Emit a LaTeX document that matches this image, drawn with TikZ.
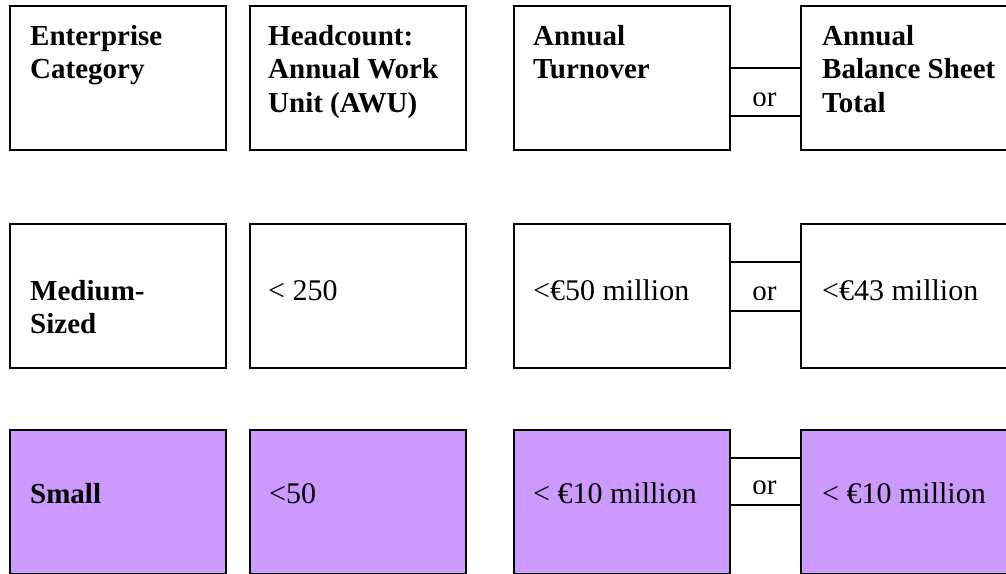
\documentclass[tikz,border=0pt]{standalone}
\usepackage{fontspec}
\setmainfont{Liberation Serif}
\usetikzlibrary{calc}
\definecolor{smallfill}{HTML}{CC99FF}
\newcommand{\cellstack}[1]{\vtop{\baselineskip=33.5pt\halign{##\hfil\cr#1\crcr}}}

\begin{document}
\begin{tikzpicture}[
    x=1pt, y=-1pt,
    cell/.style={draw, line width=1.8pt, minimum width=216pt, minimum height=144pt, inner sep=0pt, anchor=north west},
    smallcell/.style={cell, fill=smallfill},
    head/.style={font=\fontsize{29}{33.5}\selectfont\bfseries, anchor=base west, inner sep=0pt},
    val/.style={font=\fontsize{30}{34}\selectfont, anchor=base west, inner sep=0pt},
    ortext/.style={font=\fontsize{29}{34}\selectfont, anchor=base, inner sep=0pt},
    orline/.style={line width=1.5pt},
]
    \useasboundingbox (0,0) rectangle (1006,573);
    \fill[white] (0,0) rectangle (1006,573);
    \clip (0,0) rectangle (1006,573);

    % --- Header row ---
    \node[cell] (b11) at (9,5) {};
    \node[cell] (b12) at (249,5) {};
    \node[cell] (b13) at (513,5) {};
    \node[cell] (b14) at (800,5) {};
    \draw[orline] ($(b13.north east)+(0,63)$) -- ($(b14.north west)+(0,63)$);
    \draw[orline] ($(b13.north east)+(0,111)$) -- ($(b14.north west)+(0,111)$);
    \node[head] (t11) at (30,45) {\cellstack{Enterprise\cr Category}};
    \node[head] (t12) at (268,45) {\cellstack{Headcount:\cr Annual Work\cr Unit (AWU)}};
    \node[head] (t13) at (533,45) {\cellstack{Annual\cr Turnover}};
    \node[head] (t14) at (822,45) {\cellstack{Annual\cr Balance Sheet\cr Total}};
    \begin{scope}
        \clip (729,68) rectangle (800,105);
        \node[ortext] (orA) at (764.5,106.5) {or};
    \end{scope}

    % --- Medium-sized row ---
    \node[cell] (b21) at (9,223) {};
    \node[cell] (b22) at (249,223) {};
    \node[cell] (b23) at (513,223) {};
    \node[cell] (b24) at (800,223) {};
    \draw[orline] ($(b23.north east)+(0,39)$) -- ($(b24.north west)+(0,39)$);
    \draw[orline] ($(b23.north east)+(0,88)$) -- ($(b24.north west)+(0,88)$);
    \node[head] (t21) at (30,300) {\cellstack{Medium-\cr Sized}};
    \node[val] (t22) at (268,300) {< 250};
    \node[val] (t23) at (533,300) {<€50 million};
    \node[val] (t24) at (822,300) {<€43 million};
    \begin{scope}
        \clip (729,262) rectangle (800,299);
        \node[ortext] (orB) at (764.5,300.5) {or};
    \end{scope}

    % --- Small row ---
    \node[smallcell] (b31) at (9,429) {};
    \node[smallcell] (b32) at (249,429) {};
    \node[smallcell] (b33) at (513,429) {};
    \node[smallcell] (b34) at (800,429) {};
    \draw[orline] ($(b33.north east)+(0,29)$) -- ($(b34.north west)+(0,29)$);
    \draw[orline] ($(b33.north east)+(0,76)$) -- ($(b34.north west)+(0,76)$);
    \node[head] (t31) at (30,503) {Small};
    \node[val] (t32) at (269,503) {<50};
    \node[val] (t33) at (533,503) {< €10 million};
    \node[val] (t34) at (822,503) {< €10 million};
    \begin{scope}
        \clip (729,458) rectangle (800,493);
        \node[ortext] (orC) at (764.5,494) {or};
    \end{scope}

\end{tikzpicture}
\end{document}
